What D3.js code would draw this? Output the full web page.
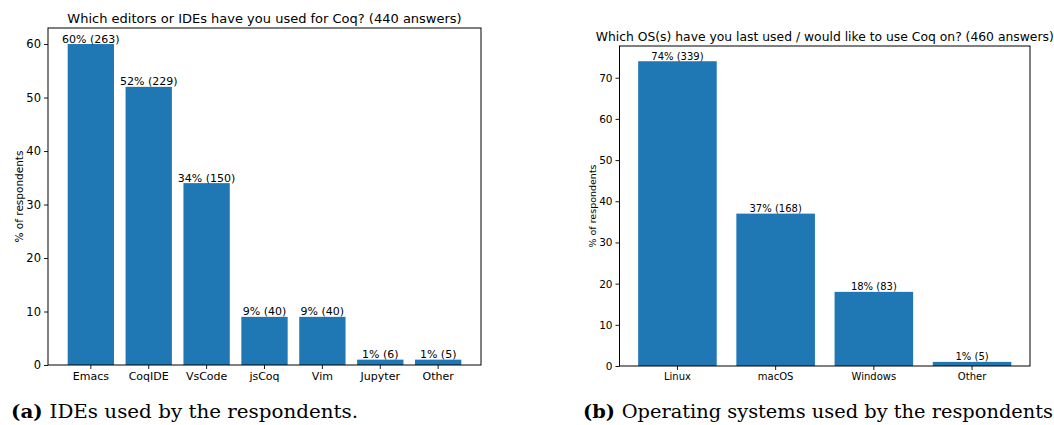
<!DOCTYPE html>
<html>
<head>
<meta charset="utf-8">
<script src="https://cdn.jsdelivr.net/npm/d3@7"></script>
<style>
  body { margin: 0; background: #fff; }
  svg { display: block; }
  text { font-family: "DejaVu Sans", sans-serif; fill: #000; }
</style>
</head>
<body>
<div id="chart"></div>
<script>
// Datos: editores / IDEs
const ideCategories = ["Emacs", "CoqIDE", "VsCode", "jsCoq", "Vim", "Jupyter", "Other"];
const idePercent = [60, 52, 34, 9, 9, 1, 1];
const ideCounts = [263, 229, 150, 40, 40, 6, 5];
const ideTicks = [0, 10, 20, 30, 40, 50, 60];

// Datos: sistemas operativos
const osCategories = ["Linux", "macOS", "Windows", "Other"];
const osPercent = [74, 37, 18, 1];
const osCounts = [339, 168, 83, 5];
const osTicks = [0, 10, 20, 30, 40, 50, 60, 70];

const W = 1054, H = 425;
const barColor = "#1f77b4";

const svg = d3.select("#chart").append("svg")
  .attr("width", W).attr("height", H);

// Dibuja un panel de barras al estilo matplotlib
function panel(opt) {
  const g = svg.append("g");
  const n = opt.categories.length;
  // margen de matplotlib: 5% del rango de datos (n - 0.2) a cada lado
  const x = d3.scaleBand()
    .domain(opt.categories)
    .range([opt.left, opt.right])
    .paddingInner(0.2)
    .paddingOuter(0.05 * (n - 0.2));
  const ymax = d3.max(opt.values) * 1.05;
  const y = d3.scaleLinear().domain([0, ymax]).range([opt.bottom, opt.top]);

  g.selectAll("rect.bar")
    .data(opt.values)
    .join("rect")
    .attr("class", "bar")
    .attr("x", (d, i) => x(opt.categories[i]))
    .attr("width", x.bandwidth())
    .attr("y", d => y(d))
    .attr("height", d => y(0) - y(d))
    .attr("fill", barColor);

  g.selectAll("text.lbl")
    .data(opt.values)
    .join("text")
    .attr("class", "lbl")
    .attr("x", (d, i) => x(opt.categories[i]) + x.bandwidth() / 2)
    .attr("y", d => y(d) - 1.5)
    .attr("text-anchor", "middle")
    .style("font-size", opt.fs + "px")
    .text((d, i) => d + "% (" + opt.counts[i] + ")");

  // ejes
  const ya = g.append("g")
    .attr("transform", `translate(${opt.left},0)`)
    .call(d3.axisLeft(y).tickValues(opt.ticks).tickSize(4).tickPadding(3).tickFormat(d3.format("d")));
  ya.select(".domain").remove();
  ya.selectAll("text").style("font-size", opt.fs + 0.5 + "px").attr("fill", "#000");
  ya.selectAll("line").attr("stroke", "#000").attr("stroke-width", 0.9);

  const xa = g.append("g")
    .attr("transform", `translate(0,${opt.bottom})`)
    .call(d3.axisBottom(x).tickSize(4).tickPadding(3));
  xa.select(".domain").remove();
  xa.selectAll("text").style("font-size", opt.fs + "px").attr("fill", "#000");
  xa.selectAll("line").attr("stroke", "#000").attr("stroke-width", 0.9);

  g.append("rect")
    .attr("x", opt.left).attr("y", opt.top)
    .attr("width", opt.right - opt.left).attr("height", opt.bottom - opt.top)
    .attr("fill", "none").attr("stroke", "#000").attr("stroke-width", 1);

  g.append("text")
    .attr("x", (opt.left + opt.right) / 2)
    .attr("y", opt.top - 5)
    .attr("text-anchor", "middle")
    .style("font-size", opt.tfs + "px")
    .text(opt.title);

  g.append("text")
    .attr("transform", `translate(${opt.ylx},${(opt.top + opt.bottom) / 2}) rotate(-90)`)
    .attr("text-anchor", "middle")
    .style("font-size", opt.fs - 0.5 + "px")
    .text("% of respondents");

  // leyenda de la figura (estilo LaTeX)
  const cap = g.append("text")
    .attr("x", opt.capx).attr("y", 418)
    .attr("textLength", opt.capw)
    .attr("lengthAdjust", "spacingAndGlyphs")
    .style("font-family", "'DejaVu Serif', serif")
    .style("font-size", "19px");
  cap.append("tspan").style("font-weight", "bold").text(opt.capTag + " ");
  cap.append("tspan").text(opt.caption);
}

panel({
  categories: ideCategories, values: idePercent, counts: ideCounts, ticks: ideTicks,
  left: 48, right: 481, top: 28, bottom: 365, fs: 11, tfs: 13, ylx: 23,
  title: "Which editors or IDEs have you used for Coq? (440 answers)",
  capx: 11, capw: 347, capTag: "(a)", caption: "IDEs used by the respondents."
});

panel({
  categories: osCategories, values: osPercent, counts: osCounts, ticks: osTicks,
  left: 619.5, right: 1030, top: 46, bottom: 366, fs: 10, tfs: 12.35, ylx: 596,
  title: "Which OS(s) have you last used / would like to use Coq on? (460 answers)",
  capx: 583, capw: 470, capTag: "(b)", caption: "Operating systems used by the respondents"
});
</script>
</body>
</html>
